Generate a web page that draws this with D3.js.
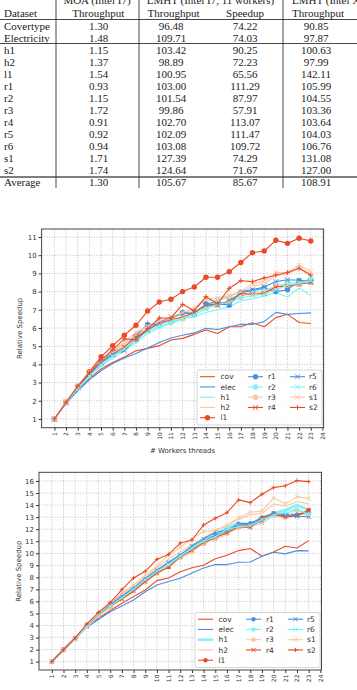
<!DOCTYPE html>
<html>
<head>
<meta charset="UTF-8">
<title>LMHT throughput and speedup</title>
<style>
  body { margin: 0; background: #fff; }
  .tbl text { font: 11px "Liberation Serif", "Times New Roman", serif; fill: #1a1a1a; }
  .grid line { stroke: #b5b5b5; stroke-width: 0.8; stroke-dasharray: 1,1.6; }
  .legend text { font: 7.5px "DejaVu Sans", sans-serif; fill: #333; }
  .axtitle { font: 7px "DejaVu Sans", sans-serif; fill: #333; }
</style>
</head>
<body>
<svg width="357" height="690"></svg>
<script src="https://d3js.org/d3.v7.min.js"></script>
<script>

    // ---- table data ----
    var datasets = ["Covertype", "Electricity", "h1", "h2", "l1", "r1", "r2", "r3", "r4", "r5", "r6", "s1", "s2"];
    var moaThroughput = ["1.30", "1.48", "1.15", "1.37", "1.54", "0.93", "1.15", "1.72", "0.91", "0.92", "0.94", "1.71", "1.74"];
    var lmhtThroughput = ["96.48", "109.71", "103.42", "98.89", "100.95", "103.00", "101.54", "99.86", "102.70", "102.09", "103.08", "127.39", "124.64"];
    var lmhtSpeedup = ["74.22", "74.03", "90.25", "72.23", "65.56", "111.29", "87.97", "57.91", "113.07", "111.47", "109.72", "74.29", "71.67"];
    var xeonThroughput = ["90.85", "97.87", "100.63", "97.99", "142.11", "105.99", "104.55", "103.36", "103.64", "104.03", "106.76", "131.08", "127.00"];
    var averageRow = ["Average", "1.30", "105.67", "85.67", "108.91"];

    // ---- chart data ----
    var threads = [1, 2, 3, 4, 5, 6, 7, 8, 9, 10, 11, 12, 13, 14, 15, 16, 17, 18, 19, 20, 21, 22, 23];
    var xTicks = [1, 2, 3, 4, 5, 6, 7, 8, 9, 10, 11, 12, 13, 14, 15, 16, 17, 18, 19, 20, 21, 22, 23, 24];
    var seriesNames = ["cov", "elec", "h1", "h2", "l1", "r1", "r2", "r3", "r4", "r5", "r6", "s1", "s2"];
    var seriesColors = ["#ea4b26", "#4b8fe2", "#7cf2f2", "#f9c8a0", "#ea4b26", "#4b8fe2", "#7cf2f2", "#f9c8a0",
                        "#ea4b26", "#4b8fe2", "#7cf2f2", "#f9c8a0", "#ea4b26"];
    var seriesMarkers = ["", "", "", "", "o", "o", "o", "o", "x", "x", "x", "x", "+"];

    // speedup on the i7 machine (top chart)
    var speedupI7 = [
        [1, 1.85, 2.6, 3.2, 3.75, 4.1, 4.4, 4.75, 4.88, 5.03, 5.34, 5.43, 5.65, 5.89, 5.7, 6.07, 6.07, 6.29, 6.07, 6.57, 6.75, 6.3, 6.25],
        [1, 1.85, 2.55, 3.15, 3.65, 4.05, 4.35, 4.6, 4.9, 5.2, 5.45, 5.6, 5.73, 5.98, 5.92, 6.07, 6.2, 6.2, 6.35, 6.86, 6.75, 6.8, 6.83],
        [1, 1.88, 2.65, 3.3, 3.9, 4.35, 4.75, 5.2, 5.7, 6.0, 6.25, 6.5, 6.6, 6.85, 7.0, 7.15, 7.5, 7.6, 7.75, 7.95, 7.7, 8.2, 7.8],
        [1, 1.92, 2.8, 3.55, 4.15, 4.75, 5.1, 5.6, 6.0, 6.35, 6.55, 6.75, 7.05, 7.5, 7.55, 7.75, 7.95, 8.3, 8.4, 8.9, 8.95, 9.3, 9.0],
        [1, 1.92, 2.78, 3.6, 4.42, 5.03, 5.6, 6.15, 6.93, 7.43, 7.58, 8.0, 8.25, 8.79, 8.79, 9.09, 9.6, 10.14, 10.23, 10.82, 10.65, 10.93, 10.78],
        [1, 1.9, 2.75, 3.5, 4.15, 4.7, 4.95, 5.6, 6.2, 6.2, 6.5, 6.86, 6.75, 7.32, 7.45, 7.25, 7.95, 8.05, 8.2, 8.0, 8.1, 8.6, 8.6],
        [1, 1.9, 2.7, 3.4, 4.0, 4.5, 4.9, 5.3, 5.85, 6.1, 6.3, 6.5, 6.9, 7.1, 7.5, 7.7, 7.7, 8.0, 8.05, 8.3, 8.45, 8.5, 8.7],
        [1, 1.92, 2.8, 3.5, 4.05, 4.6, 5.0, 5.5, 5.9, 6.25, 6.5, 6.55, 6.8, 7.15, 7.25, 7.5, 7.75, 7.9, 7.95, 8.3, 8.35, 8.4, 8.5],
        [1, 1.9, 2.75, 3.5, 4.1, 4.55, 4.95, 5.5, 5.9, 6.25, 6.45, 6.6, 6.85, 7.25, 7.25, 7.5, 7.9, 7.85, 7.9, 8.25, 8.3, 8.4, 8.5],
        [1, 1.9, 2.7, 3.45, 4.1, 4.55, 4.75, 5.4, 5.9, 6.3, 6.6, 6.8, 6.85, 7.3, 7.3, 7.3, 8.0, 8.1, 8.25, 8.55, 8.65, 8.62, 8.55],
        [1, 1.9, 2.7, 3.35, 3.95, 4.45, 4.85, 5.35, 5.8, 6.1, 6.35, 6.55, 6.7, 7.05, 7.3, 7.4, 7.65, 7.8, 7.85, 8.1, 8.35, 8.45, 8.6],
        [1, 1.95, 2.85, 3.6, 4.2, 4.8, 5.2, 5.75, 6.1, 6.4, 6.6, 6.85, 7.1, 7.6, 7.65, 7.8, 8.0, 8.45, 8.55, 9.05, 9.05, 9.45, 9.1],
        [1, 1.92, 2.8, 3.55, 4.25, 4.8, 5.4, 5.35, 5.95, 6.55, 6.55, 7.3, 6.95, 7.72, 7.33, 8.18, 8.6, 8.55, 8.75, 8.9, 9.05, 9.28, 8.9]
    ];

    // speedup on the Xeon machine (bottom chart)
    var speedupXeon = [
        [1, 1.95, 2.9, 3.95, 4.6, 5.25, 5.85, 6.4, 6.95, 7.73, 7.95, 8.47, 8.8, 9.0, 9.55, 9.83, 10.22, 10.4, 9.75, 10.1, 10.58, 10.44, 11.05],
        [1, 1.95, 2.9, 3.85, 4.5, 5.15, 5.62, 6.12, 6.8, 7.37, 7.65, 7.92, 8.37, 8.78, 9.06, 9.06, 9.25, 9.27, 9.75, 10.08, 9.95, 10.22, 10.2],
        [1, 2, 2.95, 3.95, 4.9, 5.65, 6.4, 7.1, 7.85, 8.55, 9.2, 9.85, 10.5, 11.15, 11.55, 12.1, 12.5, 12.4, 13.0, 13.3, 13.6, 14.0, 13.6],
        [1, 2, 2.95, 4.0, 4.95, 5.8, 6.6, 7.25, 8.0, 8.8, 9.5, 10.1, 10.7, 11.3, 11.8, 12.3, 12.8, 13.2, 13.3, 14.1, 13.9, 14.3, 14.1],
        [1, 2, 2.95, 3.95, 4.9, 5.6, 6.3, 6.95, 7.7, 8.4, 8.85, 9.75, 10.3, 10.8, 11.3, 11.8, 12.3, 12.4, 12.95, 13.3, 13.1, 13.2, 13.6],
        [1, 2, 2.95, 4.0, 4.95, 5.7, 6.4, 7.05, 7.8, 8.5, 9.1, 9.7, 10.35, 11.0, 11.5, 11.9, 12.45, 12.5, 12.85, 13.2, 13.25, 13.2, 13.4],
        [1, 2, 2.9, 3.9, 4.85, 5.6, 6.35, 7.0, 7.75, 8.45, 9.1, 9.7, 10.3, 10.9, 11.25, 11.8, 12.3, 12.25, 12.7, 13.1, 13.3, 13.6, 13.3],
        [1, 1.95, 2.85, 3.9, 4.8, 5.5, 6.2, 6.9, 7.6, 8.3, 9.0, 9.6, 10.1, 10.85, 11.15, 11.6, 12.1, 12.2, 12.5, 13.1, 12.95, 13.6, 13.0],
        [1, 2, 2.95, 3.95, 4.85, 5.6, 6.2, 6.85, 7.65, 8.35, 8.85, 9.7, 10.25, 10.9, 11.3, 11.7, 12.2, 12.15, 12.9, 13.25, 13.0, 13.1, 13.5],
        [1, 2, 2.95, 4.0, 4.95, 5.75, 6.45, 7.1, 7.9, 8.6, 9.25, 9.85, 10.6, 11.2, 11.75, 11.9, 12.35, 12.3, 12.7, 13.35, 13.15, 13.05, 13.05],
        [1, 2, 2.9, 3.9, 4.85, 5.6, 6.3, 7.0, 7.8, 8.5, 9.05, 9.75, 10.4, 11.0, 11.35, 12.0, 12.2, 12.3, 12.8, 13.15, 13.5, 13.7, 13.2],
        [1, 2, 3.0, 4.05, 5.0, 5.85, 6.7, 7.35, 8.15, 8.95, 9.85, 10.5, 11.2, 11.8, 11.9, 12.3, 12.95, 13.4, 13.5, 14.6, 14.1, 14.7, 14.55],
        [1, 2.0, 2.97, 4.13, 5.1, 5.9, 6.98, 7.95, 8.5, 9.5, 9.9, 10.85, 11.1, 12.35, 12.9, 13.37, 14.43, 14.2, 14.9, 15.45, 15.6, 16.03, 15.95]
    ];

    var ticksI7 = [1, 2, 3, 4, 5, 6, 7, 8, 9, 10, 11];
    var ticksXeon = [1, 2, 3, 4, 5, 6, 7, 8, 9, 10, 11, 12, 13, 14, 15, 16];

    var svg = d3.select("svg");

    // ================= table =================
    var tbl = svg.append("g").attr("class", "tbl");
    var cols = [
        {x: 4, anchor: "start"},
        {x: 98.5, anchor: "middle"},
        {x: 171, anchor: "middle"},
        {x: 245, anchor: "middle"},
        {x: 316, anchor: "middle"}
    ];

    // header
    tbl.append("text").attr("x", 97).attr("y", 3.5).attr("text-anchor", "middle").text("MOA (Intel I7)");
    tbl.append("text").attr("x", 210.5).attr("y", 3.5).attr("text-anchor", "middle").text("LMHT (Intel I7, 11 workers)");
    tbl.append("text").attr("x", 292).attr("y", 3.5).text("LMHT (Intel Xeon, 24 workers)");
    tbl.append("text").attr("x", 4).attr("y", 17.3).text("Dataset");
    tbl.append("text").attr("x", 98.3).attr("y", 17.3).attr("text-anchor", "middle").text("Throughput");
    tbl.append("text").attr("x", 173.5).attr("y", 17.3).attr("text-anchor", "middle").text("Throughput");
    tbl.append("text").attr("x", 245).attr("y", 17.3).attr("text-anchor", "middle").text("Speedup");
    tbl.append("text").attr("x", 292).attr("y", 17.3).text("Throughput");

    function rowY(i) {
        return i < 2 ? 29.7 + 12 * i : 54 + 11.95 * (i - 2);
    }

    var rows = datasets.map(function(d, i) {
        return [d, moaThroughput[i], lmhtThroughput[i], lmhtSpeedup[i], xeonThroughput[i]];
    });

    rows.forEach(function(r, i) {
        r.forEach(function(v, c) {
            tbl.append("text")
                .attr("x", cols[c].x)
                .attr("y", rowY(i))
                .attr("text-anchor", cols[c].anchor)
                .text(v);
        });
    });
    averageRow.forEach(function(v, c) {
        tbl.append("text")
            .attr("x", cols[c].x)
            .attr("y", 186)
            .attr("text-anchor", cols[c].anchor)
            .text(v);
    });

    [19.5, 43.5].forEach(function(yy) {
        tbl.append("line").attr("x1", 0).attr("x2", 357).attr("y1", yy).attr("y2", yy)
            .attr("stroke", "#333").attr("stroke-width", 0.9);
    });
    tbl.append("line").attr("x1", 0).attr("x2", 357).attr("y1", 177).attr("y2", 177)
        .attr("stroke", "#555").attr("stroke-width", 1.4);
    [56, 139, 283].forEach(function(xx) {
        tbl.append("line").attr("x1", xx).attr("x2", xx).attr("y1", 0).attr("y2", 188)
            .attr("stroke", "#333").attr("stroke-width", 0.9);
    });

    // ================= charts =================
    function markerPath(type, cx, cy, s) {
        if (type === "x") {
            return "M" + (cx - s) + "," + (cy - s) + "L" + (cx + s) + "," + (cy + s) +
                   "M" + (cx - s) + "," + (cy + s) + "L" + (cx + s) + "," + (cy - s);
        }
        return "M" + (cx - s) + "," + cy + "L" + (cx + s) + "," + cy +
               "M" + cx + "," + (cy - s) + "L" + cx + "," + (cy + s);
    }

    function drawMarker(g, type, cx, cy, color, o) {
        if (type === "o") {
            g.append("circle").attr("cx", cx).attr("cy", cy).attr("r", o.dot).attr("fill", color);
        } else if (type) {
            g.append("path").attr("d", markerPath(type, cx, cy, o.cross))
                .attr("stroke", color).attr("stroke-width", 1).attr("fill", "none");
        }
    }

    function drawChart(values, o) {
        var g = svg.append("g");
        var x = d3.scaleLinear().domain([-0.1, 24.1]).range([o.left, o.right]);
        var y = d3.scaleLinear().domain(o.yDomain).range([o.bottom, o.top]);

        // dotted grid
        var grid = g.append("g").attr("class", "grid");
        grid.selectAll("line.v").data(xTicks).join("line").attr("class", "v")
            .attr("x1", function(d) { return x(d); }).attr("x2", function(d) { return x(d); })
            .attr("y1", o.top).attr("y2", o.bottom);
        grid.selectAll("line.h").data(o.yTicks).join("line").attr("class", "h")
            .attr("y1", function(d) { return y(d); }).attr("y2", function(d) { return y(d); })
            .attr("x1", o.left).attr("x2", o.right);

        var line = d3.line()
            .x(function(d, i) { return x(threads[i]); })
            .y(function(d) { return y(d); });

        seriesNames.forEach(function(name, k) {
            var s = g.append("g");
            var w = (name === "h1") ? o.h1Width : o.lineWidth;
            s.append("path").datum(values[k])
                .attr("d", line)
                .attr("fill", "none")
                .attr("stroke", seriesColors[k])
                .attr("stroke-width", w)
                .attr("stroke-linejoin", "round");
            if (seriesMarkers[k]) {
                values[k].forEach(function(v, i) {
                    drawMarker(s, seriesMarkers[k], x(threads[i]), y(v), seriesColors[k], o);
                });
            }
        });

        // frame
        g.append("rect")
            .attr("x", o.left).attr("y", o.top)
            .attr("width", o.right - o.left).attr("height", o.bottom - o.top)
            .attr("fill", "none").attr("stroke", "#444").attr("stroke-width", 1);

        // axes
        var ay = g.append("g")
            .attr("transform", "translate(" + o.left + ",0)")
            .call(d3.axisLeft(y).tickValues(o.yTicks).tickSize(3).tickPadding(2));
        ay.select(".domain").remove();
        ay.attr("font-size", 7).attr("font-family", "DejaVu Sans").attr("color", "#333");

        var ax = g.append("g")
            .attr("transform", "translate(0," + o.bottom + ")")
            .call(d3.axisBottom(x).tickValues(xTicks).tickSize(3));
        ax.select(".domain").remove();
        ax.attr("font-size", 6).attr("font-family", "DejaVu Sans").attr("color", "#333");
        ax.selectAll("text")
            .attr("transform", "rotate(-90)")
            .attr("x", -4.5)
            .attr("y", 0)
            .attr("dy", "0.32em")
            .style("text-anchor", "end");

        g.append("text").attr("class", "axtitle")
            .attr("transform", "translate(" + o.yTitleX + "," + ((o.top + o.bottom) / 2) + ") rotate(-90)")
            .attr("text-anchor", "middle")
            .text("Relative Speedup");
        g.append("text").attr("class", "axtitle")
            .attr("x", (o.left + o.right) / 2).attr("y", o.bottom + 25.5)
            .attr("text-anchor", "middle")
            .text("# Workers threads");

        // legend
        var lg = g.append("g").attr("class", "legend")
            .attr("transform", "translate(" + o.legX + "," + o.legY + ")");
        lg.append("rect").attr("width", 125).attr("height", 55).attr("rx", 2)
            .attr("fill", "#fff").attr("fill-opacity", 0.85)
            .attr("stroke", "#ccc").attr("stroke-width", 0.8);
        var handleX = [3, 51, 93], textX = [23.5, 71, 112];
        seriesNames.forEach(function(name, k) {
            var col = k < 5 ? 0 : (k < 9 ? 1 : 2);
            var row = k < 5 ? k : (k < 9 ? k - 5 : k - 9);
            var ry = 6.7 + row * 10.25;
            var hx = handleX[col];
            var w = (name === "h1") ? o.h1Width : o.lineWidth;
            lg.append("line").attr("x1", hx).attr("x2", hx + 15).attr("y1", ry).attr("y2", ry)
                .attr("stroke", seriesColors[k]).attr("stroke-width", w);
            drawMarker(lg, seriesMarkers[k], hx + 7.5, ry, seriesColors[k], o);
            lg.append("text").attr("x", textX[col]).attr("y", ry).attr("dy", "0.35em").text(name);
        });
    }

    drawChart(speedupI7, {
        left: 41.6, right: 323.6, top: 229, bottom: 427.7,
        yDomain: [0.52, 11.44], yTicks: ticksI7,
        lineWidth: 1.1, h1Width: 1.1, dot: 2.7, cross: 2.4,
        yTitleX: 22, legX: 197, legY: 370
    });

    drawChart(speedupXeon, {
        left: 39, right: 321.5, top: 472.3, bottom: 670,
        yDomain: [0.31, 16.72], yTicks: ticksXeon,
        lineWidth: 1.1, h1Width: 2.4, dot: 2.2, cross: 2.0,
        yTitleX: 21, legX: 195, legY: 612.5
    });

</script>
</body>
</html>
